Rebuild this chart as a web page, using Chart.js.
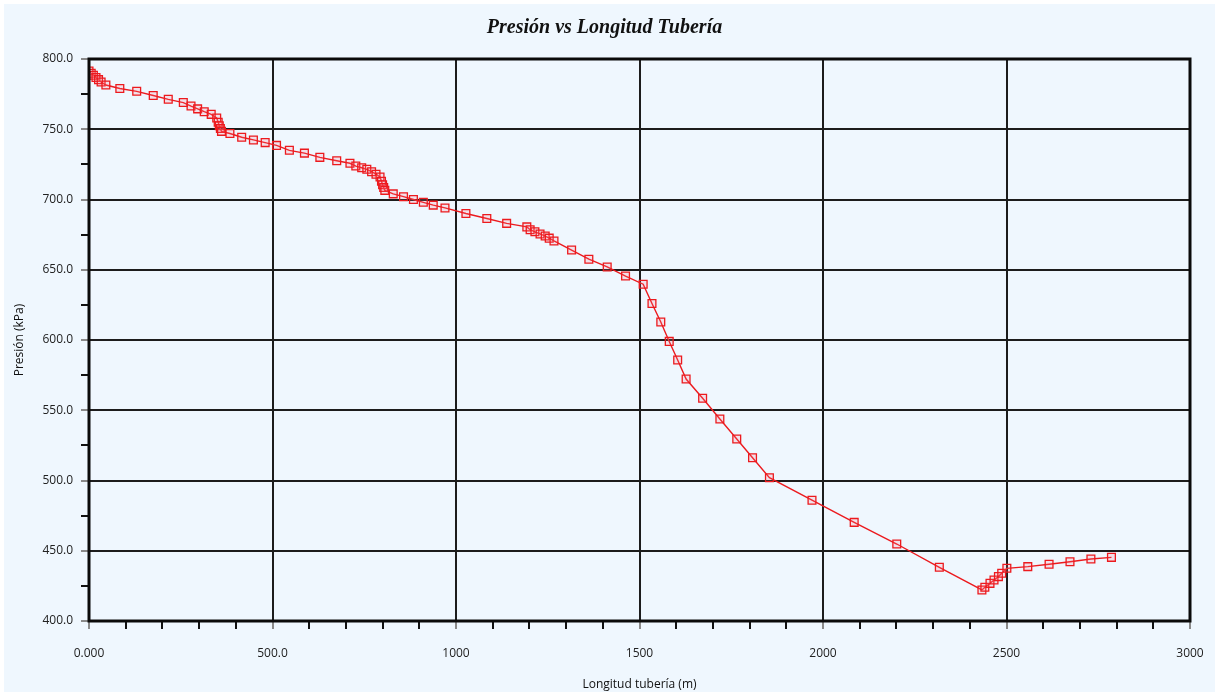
<!DOCTYPE html>
<html>
<head>
<meta charset="utf-8">
<script src="https://cdn.jsdelivr.net/npm/chart.js@4.4.1/dist/chart.umd.min.js"></script>
<style>
  html, body { margin: 0; padding: 0; background: #ffffff; }
  #wrap { position: absolute; left: 0; top: 0; width: 1215px; height: 692px; }
</style>
</head>
<body>
<div id="wrap"><canvas id="chart" width="1215" height="692"></canvas></div>
<script>
// Pipe length (m) and pressure (kPa)
const lengthM = [
  0, 6, 12, 19, 26, 33, 46, 84, 130, 175, 216, 257, 278, 296, 314, 333, 348,
  352, 355, 358, 361, 384, 416, 448, 480, 511, 546, 587, 629, 675, 711, 727,
  743, 757, 770, 782, 793, 797, 800, 803, 806, 829, 857, 884, 911, 938, 970,
  1027, 1084, 1138, 1193, 1202, 1215, 1229, 1243, 1254, 1267, 1315, 1362,
  1412, 1462, 1510, 1534, 1558, 1581, 1604, 1627, 1672, 1719, 1765, 1808,
  1854, 1970, 2085, 2201, 2317, 2433, 2441, 2455, 2466, 2478, 2487, 2501,
  2558, 2616, 2673, 2730, 2786
];
const pressureKPa = [
  791.5, 789.8, 788.4, 786.8, 785.3, 783.6, 781.5, 779.0, 777.0, 774.0, 771.3,
  769.0, 766.5, 764.5, 762.5, 760.6, 758.0,
  755.0, 752.5, 750.5, 748.5, 747.0, 744.3, 742.4, 740.5, 738.5, 735.0, 733.0,
  730.0, 727.6, 725.8, 723.8,
  722.6, 721.5, 719.8, 718.0, 716.0, 713.0, 710.5, 708.5, 706.5, 704.0, 702.0,
  700.0, 698.0, 696.0, 694.0,
  690.0, 686.5, 683.0, 680.5, 678.5, 677.0, 675.5, 674.0, 672.5, 670.5, 664.0,
  657.5,
  652.0, 645.5, 639.7, 626.0, 612.8, 599.0, 585.8, 572.2, 558.5, 543.8, 529.5,
  516.2,
  502.0, 486.0, 470.2, 454.8, 438.2, 422.1, 424.0, 426.8, 429.2, 431.6, 434.0,
  437.5,
  438.7, 440.4, 442.2, 444.1, 445.3
];

// Axis tick labels
const xTickLabels = { 0: '0.000', 500: '500.0', 1000: '1000', 1500: '1500', 2000: '2000', 2500: '2500', 3000: '3000' };
const yTickLabels = { 400: '400.0', 450: '450.0', 500: '500.0', 550: '550.0', 600: '600.0', 650: '650.0', 700: '700.0', 750: '750.0', 800: '800.0' };
const chartTitle = 'Presión vs Longitud Tubería';

const points = lengthM.map((x, i) => ({ x: x, y: pressureKPa[i] }));

const BG = '#eff7fe';

// Page background with the thin white margin on the left/top
const backgroundPlugin = {
  id: 'bg',
  beforeDraw(chart) {
    const ctx = chart.ctx;
    ctx.save();
    ctx.fillStyle = '#ffffff';
    ctx.fillRect(0, 0, chart.width, chart.height);
    ctx.fillStyle = BG;
    ctx.fillRect(4, 4, chart.width - 4, chart.height - 4);
    ctx.restore();
  }
};

// Thick frame round the plot area, and the title centred on the page
const framePlugin = {
  id: 'frame',
  afterDatasetsDraw(chart) {
    const a = chart.chartArea;
    const ctx = chart.ctx;
    ctx.save();
    ctx.strokeStyle = '#0a0a0a';
    ctx.lineWidth = 3;
    ctx.strokeRect(a.left, a.top, a.right - a.left, a.bottom - a.top);
    ctx.fillStyle = '#111111';
    ctx.font = 'italic bold 20px "Liberation Serif"';
    ctx.textAlign = 'center';
    ctx.textBaseline = 'middle';
    ctx.fillText(chartTitle, chart.width / 2 - 3, 28);
    ctx.restore();
  }
};

const isMajor = (v, step) => Math.abs(v % step) < 1e-6;

new Chart(document.getElementById('chart'), {
  type: 'line',
  data: {
    datasets: [{
      label: 'Presión',
      data: points,
      borderColor: '#ec1a1e',
      borderWidth: 1.4,
      pointStyle: 'rect',
      pointRadius: 5.5,
      pointBorderWidth: 1.3,
      pointBorderColor: '#ec1a1e',
      pointBackgroundColor: 'rgba(255,120,140,0.18)',
      tension: 0,
      fill: false
    }]
  },
  options: {
    responsive: false,
    animation: false,
    devicePixelRatio: 1,
    layout: { padding: { left: 4, right: 25, top: 59, bottom: 0 } },
    plugins: {
      legend: { display: false },
      tooltip: { enabled: false },
      title: { display: false }
    },
    scales: {
      x: {
        type: 'linear',
        min: 0,
        max: 3000,
        afterFit(scale) {
          scale.height = 71;
          scale.paddingLeft = 0;
          scale.paddingRight = 0;
        },
        ticks: {
          stepSize: 100,
          autoSkip: false,
          maxRotation: 0,
          padding: 17,
          color: '#222222',
          font: { family: 'Open Sans', size: 12 },
          callback: (v) => xTickLabels[v] !== undefined ? xTickLabels[v] : ''
        },
        grid: {
          color: (c) => isMajor(c.tick.value, 500) ? '#1c1c1c' : 'rgba(0,0,0,0)',
          lineWidth: 2,
          tickColor: (c) => isMajor(c.tick.value, 500) ? '#8a8a8a' : '#111111',
          tickWidth: 2,
          tickLength: 8
        },
        border: { display: false },
        title: {
          display: true,
          text: 'Longitud tubería (m)',
          color: '#111111',
          font: { family: 'Open Sans', size: 12 },
          padding: { top: 0, bottom: 0 }
        }
      },
      y: {
        type: 'linear',
        min: 400,
        max: 800,
        afterFit(scale) { scale.width = 85; },
        ticks: {
          stepSize: 25,
          autoSkip: false,
          padding: 8,
          color: '#222222',
          font: { family: 'Open Sans', size: 12 },
          callback: (v) => yTickLabels[v] !== undefined ? yTickLabels[v] : ''
        },
        grid: {
          color: (c) => isMajor(c.tick.value, 50) ? '#1c1c1c' : 'rgba(0,0,0,0)',
          lineWidth: 2,
          tickColor: (c) => isMajor(c.tick.value, 50) ? '#8a8a8a' : '#111111',
          tickWidth: 2,
          tickLength: 8
        },
        border: { display: false },
        title: {
          display: true,
          text: 'Presión (kPa)',
          color: '#111111',
          font: { family: 'Open Sans', size: 12 },
          padding: { top: 8, bottom: 0 }
        }
      }
    }
  },
  plugins: [backgroundPlugin, framePlugin]
});
</script>
</body>
</html>
